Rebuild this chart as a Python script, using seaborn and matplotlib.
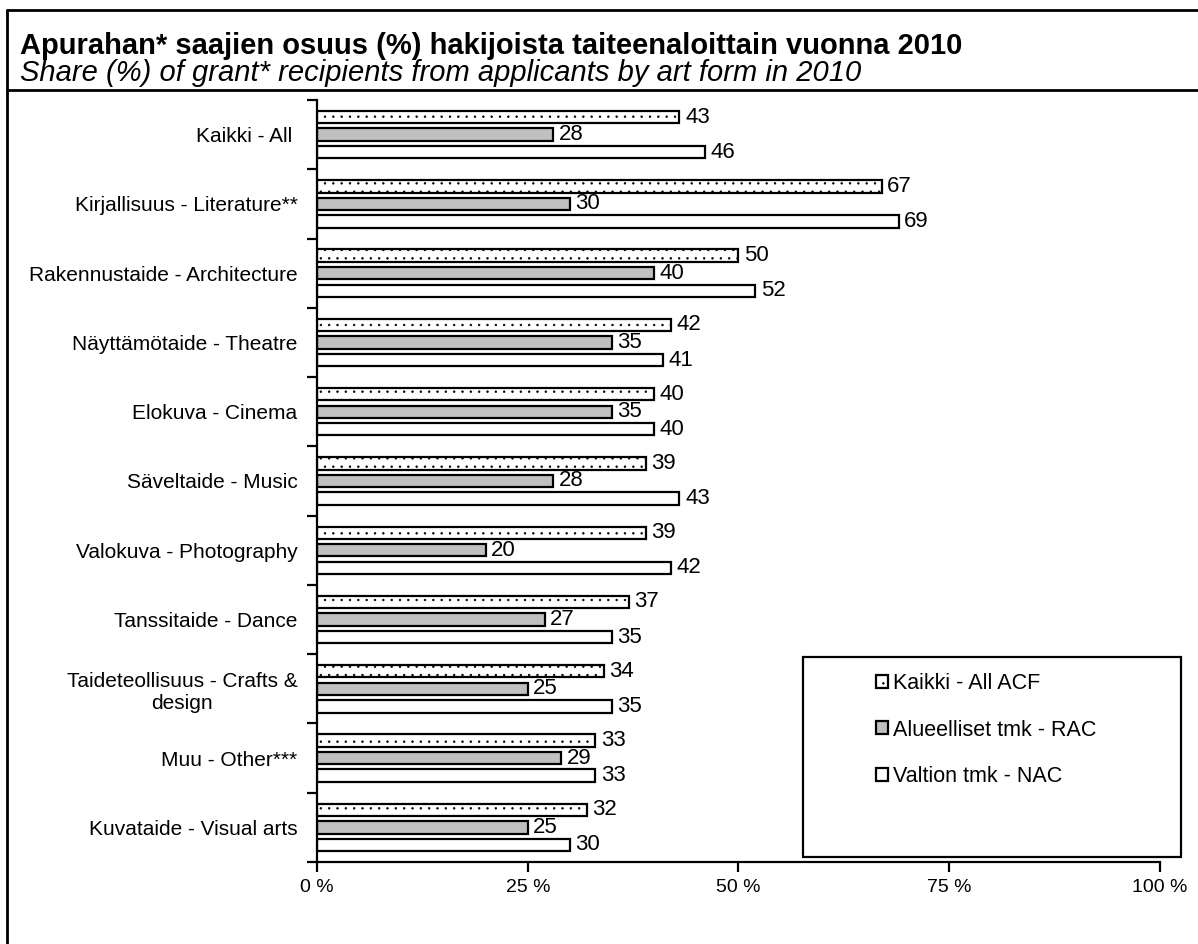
import pandas as pd
import numpy as np
import matplotlib
matplotlib.use("Agg")
import matplotlib.pyplot as plt
import seaborn as sns
from matplotlib.lines import Line2D
from matplotlib.patches import Rectangle

categories = [
    "Kaikki - All ",
    "Kirjallisuus - Literature**",
    "Rakennustaide - Architecture",
    "Näyttämötaide - Theatre",
    "Elokuva - Cinema",
    "Säveltaide - Music",
    "Valokuva - Photography",
    "Tanssitaide - Dance",
    "Taideteollisuus - Crafts &\ndesign",
    "Muu - Other***",
    "Kuvataide - Visual arts",
]
series = ["Kaikki - All ACF", "Alueelliset tmk - RAC", "Valtion tmk - NAC"]
all_acf = [43, 67, 50, 42, 40, 39, 39, 37, 34, 33, 32]
rac = [28, 30, 40, 35, 35, 28, 20, 27, 25, 29, 25]
nac = [46, 69, 52, 41, 40, 43, 42, 35, 35, 33, 30]
xticks = [0, 25, 50, 75, 100]

title = "Apurahan* saajien osuus (%) hakijoista taiteenaloittain vuonna 2010"
subtitle = "Share (%) of grant* recipients from applicants by art form in 2010"

df = pd.DataFrame({
    "category": categories * 3,
    "series": [series[0]] * 11 + [series[1]] * 11 + [series[2]] * 11,
    "value": all_acf + rac + nac,
})

sns.set_style("ticks")
plt.rcParams["font.family"] = ["Liberation Sans", "DejaVu Sans"]
plt.rcParams["hatch.linewidth"] = 0.5
for k in ["text.color", "axes.labelcolor", "xtick.color", "ytick.color"]:
    plt.rcParams[k] = "black"

W, H = 1198, 944
fig = plt.figure(figsize=(W / 100, H / 100), dpi=100)
ax = fig.add_axes([317 / W, 1 - 862 / H, 843 / W, 762 / H])

palette = {series[0]: "white", series[1]: "#c0c0c0", series[2]: "white"}
sns.barplot(data=df, y="category", x="value", hue="series", hue_order=series,
            order=categories, orient="h", palette=palette, width=0.76, gap=0.3,
            edgecolor="black", linewidth=1.6, saturation=1, legend=False, ax=ax)

# dotted fill for the ACF bars
for bar in ax.containers[0]:
    bar.set_hatch("..")
    if hasattr(bar, "set_hatchcolor"):
        bar.set_hatchcolor("#444444")

for cont in ax.containers:
    ax.bar_label(cont, fmt="%g", padding=4, fontsize=16)

ax.set_xlim(0, 100)
ax.set_ylim(len(categories) - 0.5, -0.5)
ax.set_xticks(xticks)
ax.set_xticklabels([f"{t} %" for t in xticks], fontsize=14)
ax.set_yticks(range(len(categories)))
ax.set_yticklabels(categories, fontsize=15)
for lab in ax.get_yticklabels():
    lab.set_multialignment("center")
ax.set_yticks(np.arange(-0.5, len(categories), 1), minor=True)
ax.tick_params(axis="y", which="major", length=0, pad=14)
ax.tick_params(axis="y", which="minor", length=7, width=1.6, direction="out")
ax.tick_params(axis="x", length=7, width=1.6, direction="out", pad=5)
ax.set_xlabel("")
ax.set_ylabel("")
sns.despine(ax=ax)
for s in ["left", "bottom"]:
    ax.spines[s].set_linewidth(1.6)
    ax.spines[s].set_color("black")

# legend box with fixed size, entries inside
fig.add_artist(Rectangle((803 / W, 1 - 857 / H), 378 / W, 200 / H,
                         transform=fig.transFigure, facecolor="white",
                         edgecolor="black", lw=1.6, zorder=5))
handles = [ax.containers[i][0] for i in range(3)]
leg = fig.legend(handles, series, loc="center left",
                 bbox_to_anchor=(876 / W, 1 - 730 / H),
                 fontsize=15.5, frameon=False,
                 handlelength=0.55, handleheight=0.55, handletextpad=0.25,
                 labelspacing=1.2, borderpad=0, borderaxespad=0)
leg.set_zorder(6)

# frame round the chart area
fig.add_artist(Line2D([7 / W, 7 / W], [0, 1 - 10 / H], color="black", lw=2))
fig.add_artist(Line2D([7 / W, 1], [1 - 10 / H, 1 - 10 / H], color="black", lw=2))
fig.add_artist(Line2D([7 / W, 1], [1 - 90 / H, 1 - 90 / H], color="black", lw=2))

fig.text(20 / W, 1 - 54 / H, title, fontsize=21, fontweight="bold", va="baseline")
fig.text(20 / W, 1 - 81 / H, subtitle, fontsize=21, style="italic", va="baseline")

fig.savefig("out.png", dpi=100)
